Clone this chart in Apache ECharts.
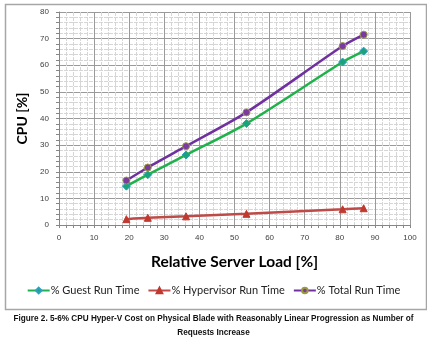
<!DOCTYPE html>
<html><head><meta charset="utf-8">
<script src="https://cdn.jsdelivr.net/npm/echarts@6/dist/echarts.min.js"></script>
<style>html,body{margin:0;padding:0;background:#fff}#c{width:427px;height:341px}</style>
</head><body><div id="c"></div>
<script>
const loadX = [19.2, 25.3, 36.2, 53.4, 80.8, 86.8];
const guestRun = [14.6, 18.9, 26.3, 38.1, 61.2, 65.3];
const hyperRun = [2.2, 2.7, 3.25, 4.2, 5.9, 6.3];
const totalRun = [16.7, 21.6, 29.6, 42.3, 67.2, 71.5];
const seriesNames = ['% Guest Run Time', '% Hypervisor Run Time', '% Total Run Time'];
const xTitle = 'Relative Server Load [%]';
const yTitle = 'CPU [%]';
const caption1 = 'Figure 2. 5-6% CPU Hyper-V Cost on Physical Blade with Reasonably Linear Progression as Number of';
const caption2 = 'Requests Increase';

const pairs = v => loadX.map((x, i) => [x, v[i]]);
const chart = echarts.init(document.getElementById('c'), null, {renderer: 'canvas'});
const axisCommon = {
  axisLine: {show: true, lineStyle: {color: '#868686', width: 1}},
  axisLabel: {color: '#404040', fontSize: 8, fontFamily: 'Liberation Sans'},
  splitLine: {show: true, lineStyle: {color: '#9a9a9a', width: 1}},
  minorTick: {show: true, splitNumber: 5, length: 3, lineStyle: {color: '#868686'}},
  minorSplitLine: {show: true, lineStyle: {color: '#d6d6d6', width: 1, type: [4, 1]}},
  axisTick: {show: true, length: 3, lineStyle: {color: '#868686'}}
};
chart.setOption({
  animation: false,
  backgroundColor: '#fff',
  grid: {left: 59, right: 17, top: 12, bottom: 116, containLabel: false},
  xAxis: Object.assign({}, axisCommon, {
    type: 'value', min: 0, max: 100, interval: 10,
    axisLabel: Object.assign({}, axisCommon.axisLabel, {margin: 9}),
    name: xTitle, nameLocation: 'middle', nameGap: 29,
    nameTextStyle: {fontSize: 15.5, fontWeight: 'bold', color: '#000', fontFamily: 'Lato'}
  }),
  yAxis: Object.assign({}, axisCommon, {
    type: 'value', min: 0, max: 80, interval: 10,
    axisLabel: Object.assign({}, axisCommon.axisLabel, {margin: 10}),
    name: yTitle, nameLocation: 'middle', nameGap: 30, nameRotate: 90,
    nameTextStyle: {fontSize: 14, fontWeight: 'bold', color: '#000', fontFamily: 'Lato'}
  }),
  legend: {
    bottom: 40, left: 'center', itemGap: 8, itemWidth: 22, itemHeight: 7,
    textStyle: {fontSize: 11, color: '#222', fontFamily: 'Lato', padding: [0, 0, 0, -4]},
    data: seriesNames
  },
  series: [
    {name: seriesNames[0], type: 'line', data: pairs(guestRun), smooth: 0.25,
     symbol: 'diamond', symbolSize: 8,
     lineStyle: {color: '#1fb24a', width: 2.5},
     itemStyle: {color: '#1aa37a', borderColor: '#2aa0c0', borderWidth: 1}},
    {name: seriesNames[1], type: 'line', data: pairs(hyperRun), smooth: 0.25,
     symbol: 'triangle', symbolSize: 7,
     lineStyle: {color: '#be4b48', width: 2.5},
     itemStyle: {color: '#c0392f', borderColor: '#c0392f', borderWidth: 1}},
    {name: seriesNames[2], type: 'line', data: pairs(totalRun), smooth: 0.25,
     symbol: 'circle', symbolSize: 7,
     lineStyle: {color: '#7030a0', width: 2.5},
     itemStyle: {color: '#7a3aa0', borderColor: '#9a9a40', borderWidth: 1}}
  ],
  graphic: [
    {type: 'rect', left: 3, top: 2, shape: {width: 421, height: 305},
     style: {fill: null, stroke: '#a6a6a6', lineWidth: 1.5}, silent: true},
    {type: 'text', left: 'center', top: 315,
     style: {text: caption1, fontSize: 8.2, fontWeight: 'bold', fill: '#111', fontFamily: 'Liberation Sans'}},
    {type: 'text', left: 'center', top: 329,
     style: {text: caption2, fontSize: 8.2, fontWeight: 'bold', fill: '#111', fontFamily: 'Liberation Sans'}}
  ]
});
</script></body></html>
